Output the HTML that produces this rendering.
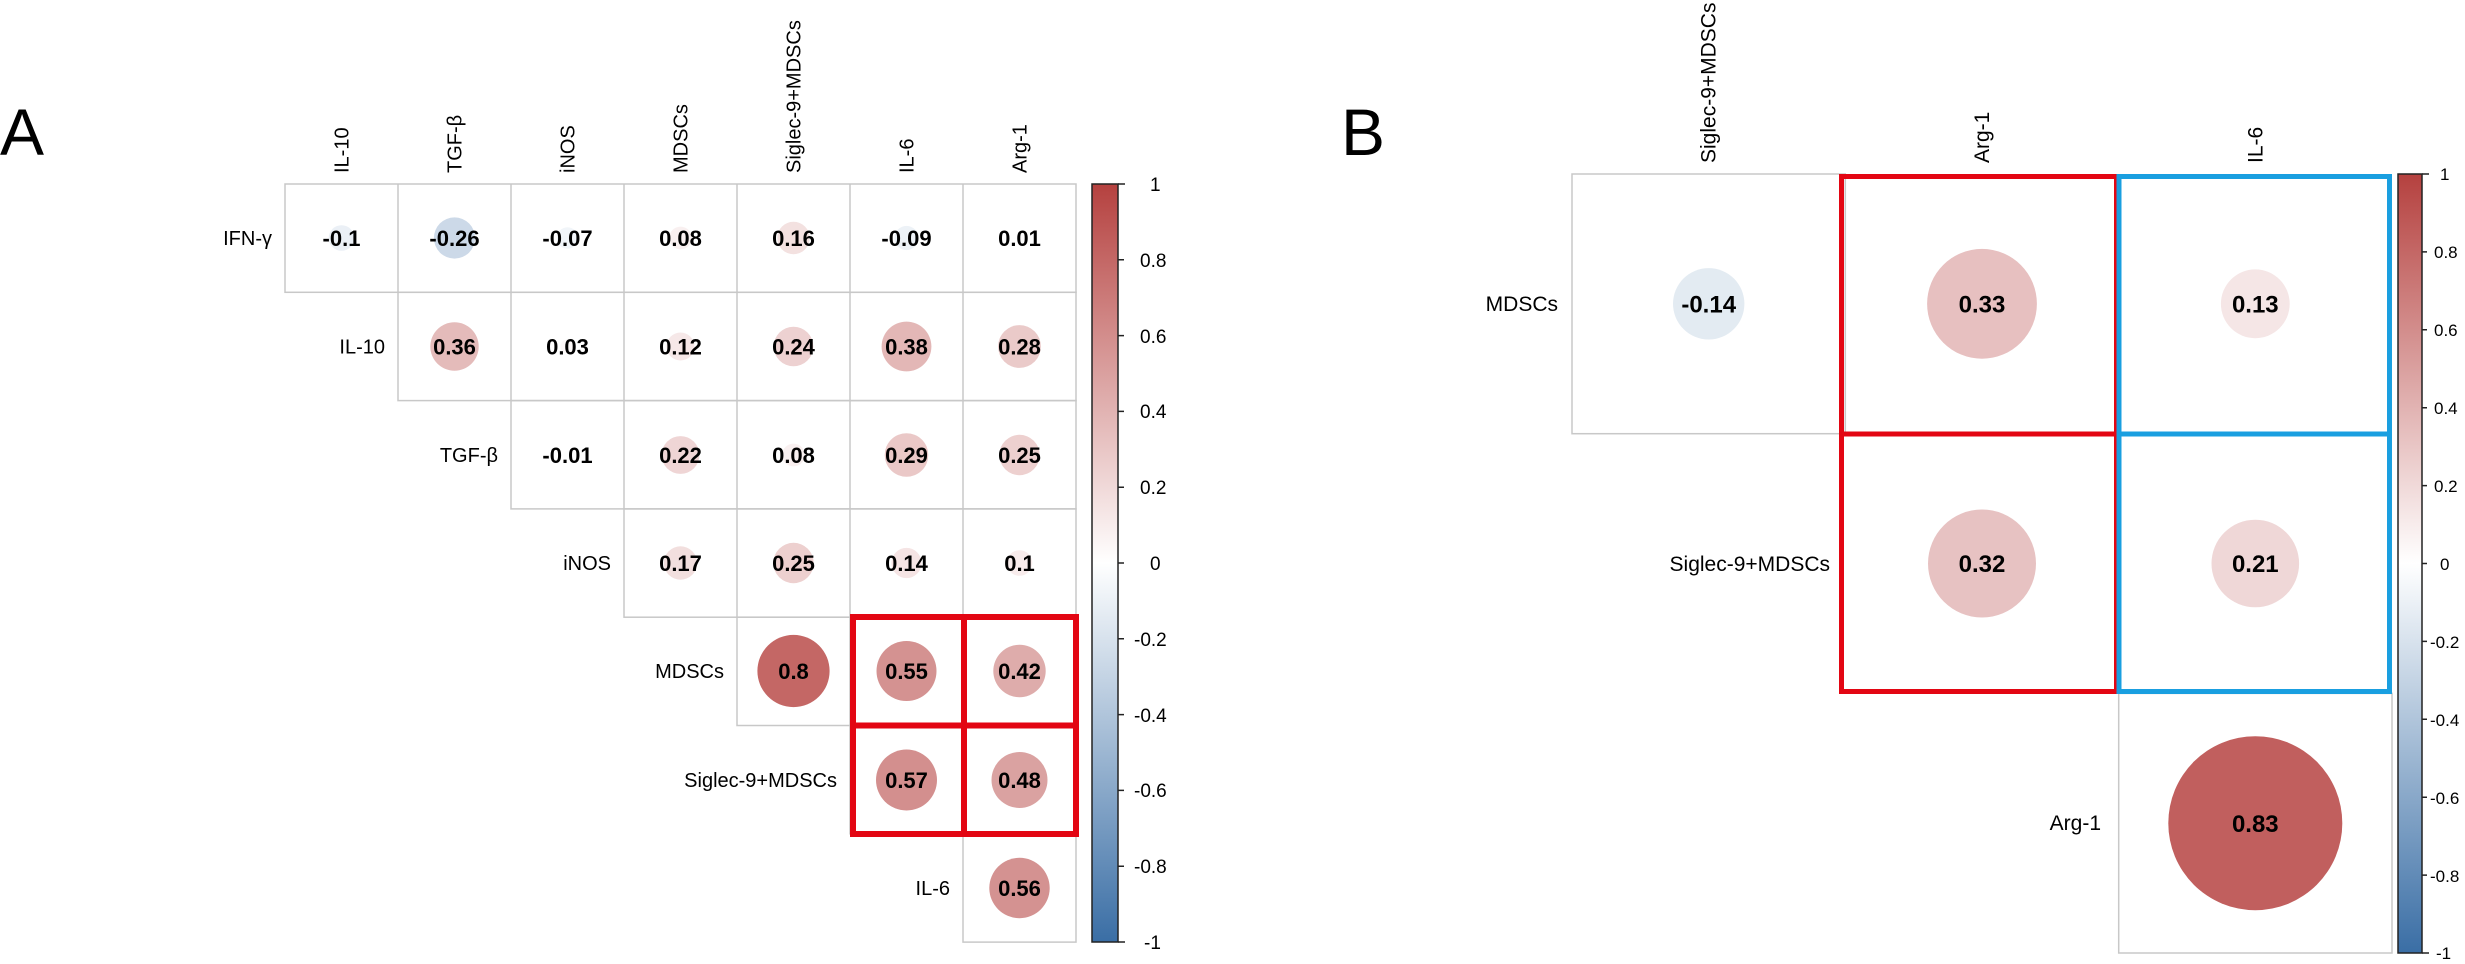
<!DOCTYPE html>
<html><head><meta charset="utf-8"><style>
html,body{margin:0;padding:0;background:#fff}
svg{display:block}
text{font-family:"Liberation Sans",Arial,sans-serif}
.lab{font-size:20px;fill:#000}
.v{font-size:22px;font-weight:bold;fill:#000;text-anchor:middle}
.t{font-size:19px;fill:#000}
.g{fill:none;stroke:#c8c8c8;stroke-width:1.5}
</style></head><body>
<svg width="2465" height="964" viewBox="0 0 2465 964" xmlns="http://www.w3.org/2000/svg">
<defs>
<linearGradient id="cb" x1="0" y1="0" x2="0" y2="1">
<stop offset="0" stop-color="#b5413f"/><stop offset="0.5" stop-color="#ffffff"/><stop offset="1" stop-color="#3a6ea5"/>
</linearGradient>
</defs>
<text x="0" y="155" font-size="66" style="font-size:66px">A</text>
<text x="1341" y="155" font-size="66" style="font-size:66px">B</text>

<g class="lab">
<text transform="translate(348.5,173) rotate(-90)">IL-10</text>
<text transform="translate(461.5,173) rotate(-90)">TGF-β</text>
<text transform="translate(574.5,173) rotate(-90)">iNOS</text>
<text transform="translate(687.5,173) rotate(-90)">MDSCs</text>
<text transform="translate(800.5,173) rotate(-90)">Siglec-9+MDSCs</text>
<text transform="translate(913.5,173) rotate(-90)">IL-6</text>
<text transform="translate(1026.5,173) rotate(-90)">Arg-1</text>
</g>
<g class="lab" text-anchor="end">
<text x="272" y="245">IFN-γ</text>
<text x="385" y="353.5">IL-10</text>
<text x="498" y="462">TGF-β</text>
<text x="611" y="570">iNOS</text>
<text x="724" y="678">MDSCs</text>
<text x="837" y="787">Siglec-9+MDSCs</text>
<text x="950" y="895">IL-6</text>
</g>
<g class="g">
<rect x="285" y="184" width="791" height="108.3"/>
<rect x="398" y="292.3" width="678" height="108.3"/>
<rect x="511" y="400.6" width="565" height="108.3"/>
<rect x="624" y="508.9" width="452" height="108.3"/>
<rect x="737" y="617.2" width="339" height="108.3"/>
<rect x="850" y="725.5" width="226" height="108.3"/>
<rect x="963" y="833.8" width="113" height="108.3"/>
<path d="M398 184V292.3M511 184V400.6M624 184V508.9M737 184V617.2M850 184V725.5M963 184V833.8"/>
</g>
<circle cx="341.5" cy="238" r="12.8" fill="rgb(235,240,246)"/>
<circle cx="454.5" cy="238" r="20.6" fill="rgb(204,217,232)"/>
<circle cx="567.5" cy="238" r="10.7" fill="rgb(241,245,249)"/>
<circle cx="680.5" cy="238" r="11.4" fill="rgb(249,240,240)"/>
<circle cx="793.5" cy="238" r="16.2" fill="rgb(243,225,224)"/>
<circle cx="906.5" cy="238" r="12.1" fill="rgb(237,242,247)"/>
<circle cx="1019.5" cy="238" r="4" fill="rgb(254,253,253)"/>
<circle cx="454.5" cy="346.5" r="24.2" fill="rgb(228,187,186)"/>
<circle cx="567.5" cy="346.5" r="7" fill="rgb(253,249,249)"/>
<circle cx="680.5" cy="346.5" r="14" fill="rgb(246,232,232)"/>
<circle cx="793.5" cy="346.5" r="19.8" fill="rgb(237,209,209)"/>
<circle cx="906.5" cy="346.5" r="24.9" fill="rgb(227,183,182)"/>
<circle cx="1019.5" cy="346.5" r="21.4" fill="rgb(234,202,201)"/>
<circle cx="567.5" cy="455" r="4" fill="rgb(253,254,254)"/>
<circle cx="680.5" cy="455" r="18.9" fill="rgb(239,213,213)"/>
<circle cx="793.5" cy="455" r="11.4" fill="rgb(249,240,240)"/>
<circle cx="906.5" cy="455" r="21.8" fill="rgb(234,200,199)"/>
<circle cx="1019.5" cy="455" r="20.2" fill="rgb(237,208,207)"/>
<circle cx="680.5" cy="563" r="16.7" fill="rgb(242,223,222)"/>
<circle cx="793.5" cy="563" r="20.2" fill="rgb(237,208,207)"/>
<circle cx="906.5" cy="563" r="15.1" fill="rgb(245,228,228)"/>
<circle cx="1019.5" cy="563" r="12.8" fill="rgb(248,236,236)"/>
<circle cx="793.5" cy="671" r="36.1" fill="rgb(196,103,101)"/>
<circle cx="906.5" cy="671" r="30" fill="rgb(212,146,145)"/>
<circle cx="1019.5" cy="671" r="26.2" fill="rgb(222,172,171)"/>
<circle cx="906.5" cy="780" r="30.5" fill="rgb(211,143,142)"/>
<circle cx="1019.5" cy="780" r="28" fill="rgb(218,162,161)"/>
<circle cx="1019.5" cy="888" r="30.2" fill="rgb(212,146,145)"/>
<g class="v">
<text x="341.5" y="246">-0.1</text><text x="454.5" y="246">-0.26</text><text x="567.5" y="246">-0.07</text><text x="680.5" y="246">0.08</text><text x="793.5" y="246">0.16</text><text x="906.5" y="246">-0.09</text><text x="1019.5" y="246">0.01</text>
<text x="454.5" y="354.5">0.36</text><text x="567.5" y="354.5">0.03</text><text x="680.5" y="354.5">0.12</text><text x="793.5" y="354.5">0.24</text><text x="906.5" y="354.5">0.38</text><text x="1019.5" y="354.5">0.28</text>
<text x="567.5" y="463">-0.01</text><text x="680.5" y="463">0.22</text><text x="793.5" y="463">0.08</text><text x="906.5" y="463">0.29</text><text x="1019.5" y="463">0.25</text>
<text x="680.5" y="571">0.17</text><text x="793.5" y="571">0.25</text><text x="906.5" y="571">0.14</text><text x="1019.5" y="571">0.1</text>
<text x="793.5" y="679">0.8</text><text x="906.5" y="679">0.55</text><text x="1019.5" y="679">0.42</text>
<text x="906.5" y="788">0.57</text><text x="1019.5" y="788">0.48</text>
<text x="1019.5" y="896">0.56</text>
</g>
<g fill="none" stroke="#e30613" stroke-width="6">
<rect x="853" y="617" width="223" height="217"/>
<path d="M964 617V834M853 725.5H1076"/>
</g>
<rect x="1092" y="184" width="26" height="758" fill="url(#cb)" stroke="#222" stroke-width="1.5"/>
<g stroke="#222" stroke-width="1.5">
<path d="M1118 184h7M1118 259.8h6M1118 335.6h6M1118 411.4h6M1118 487.2h6M1118 563h6M1118 638.8h6M1118 714.6h6M1118 790.4h6M1118 866.2h6M1118 942h7"/>
</g>
<g class="t">
<text x="1150" y="191">1</text><text x="1140" y="267">0.8</text><text x="1140" y="343">0.6</text><text x="1140" y="418">0.4</text><text x="1140" y="494">0.2</text><text x="1150" y="570">0</text><text x="1134" y="646">-0.2</text><text x="1134" y="722">-0.4</text><text x="1134" y="797">-0.6</text><text x="1134" y="873">-0.8</text><text x="1144" y="949">-1</text>
</g>

<g class="lab" style="font-size:21px">
<text transform="translate(1715.7,163) rotate(-90)">Siglec-9+MDSCs</text>
<text transform="translate(1989,163) rotate(-90)">Arg-1</text>
<text transform="translate(2262.3,163) rotate(-90)">IL-6</text>
</g>
<g class="lab" text-anchor="end" style="font-size:21px">
<text x="1558" y="311">MDSCs</text>
<text x="1830" y="571">Siglec-9+MDSCs</text>
<text x="2101" y="830">Arg-1</text>
</g>
<g class="g">
<rect x="1572" y="174" width="273.3" height="259.7"/>
<rect x="2118.7" y="693.4" width="273.3" height="259.6"/>
</g>
<circle cx="1708.7" cy="303.8" r="35.7" fill="rgb(227,235,242)"/>
<circle cx="1982" cy="303.8" r="54.9" fill="rgb(231,192,192)"/>
<circle cx="2255.3" cy="303.8" r="34.4" fill="rgb(245,230,230)"/>
<circle cx="1982" cy="563.5" r="54" fill="rgb(231,194,194)"/>
<circle cx="2255.3" cy="563.5" r="43.8" fill="rgb(239,215,215)"/>
<circle cx="2255.3" cy="823.2" r="87" fill="rgb(193,95,94)"/>
<g class="v" style="font-size:24px">
<text x="1708.7" y="312.5">-0.14</text><text x="1982" y="312.5">0.33</text><text x="2255.3" y="312.5">0.13</text>
<text x="1982" y="572">0.32</text><text x="2255.3" y="572">0.21</text>
<text x="2255.3" y="832">0.83</text>
</g>
<g fill="none" stroke="#e30613" stroke-width="5">
<rect x="1841.5" y="176.5" width="275" height="515"/>
<path d="M1841.5 434H2116.5"/>
</g>
<g fill="none" stroke="#1a9fe0" stroke-width="5">
<rect x="2119" y="176.5" width="270.5" height="515"/>
<path d="M2119 434H2389.5"/>
</g>
<rect x="2398" y="174" width="24" height="779" fill="url(#cb)" stroke="#222" stroke-width="1.5"/>
<g stroke="#222" stroke-width="1.5">
<path d="M2422 174h7M2422 251.9h5M2422 329.8h5M2422 407.7h5M2422 485.6h5M2422 563.5h5M2422 641.4h5M2422 719.3h5M2422 797.2h5M2422 875.1h5M2422 953h7"/>
</g>
<g class="t" style="font-size:17px">
<text x="2440" y="180">1</text><text x="2434" y="258">0.8</text><text x="2434" y="336">0.6</text><text x="2434" y="414">0.4</text><text x="2434" y="492">0.2</text><text x="2440" y="570">0</text><text x="2430" y="648">-0.2</text><text x="2430" y="726">-0.4</text><text x="2430" y="804">-0.6</text><text x="2430" y="882">-0.8</text><text x="2436" y="959">-1</text>
</g>
</svg>
</body></html>
